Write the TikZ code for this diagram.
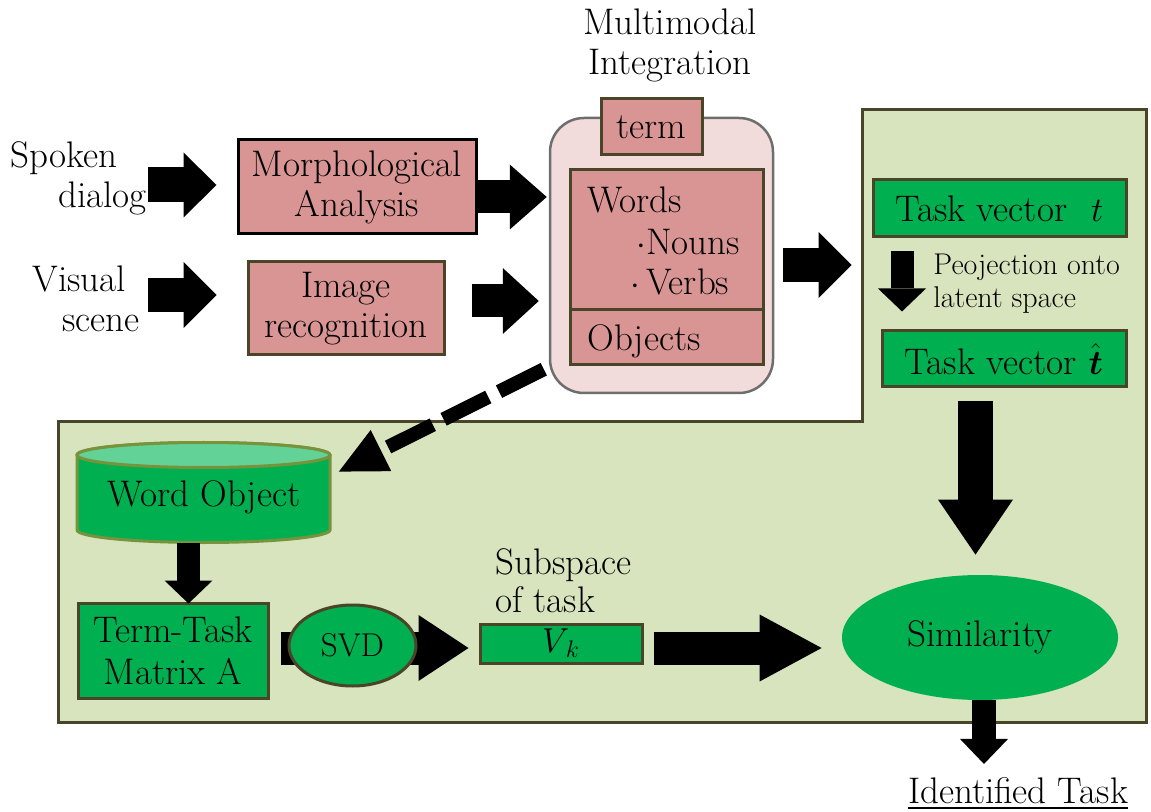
\documentclass[tikz,border=0pt]{standalone}
\usepackage{amsmath}
\usetikzlibrary{arrows.meta,shapes.geometric,calc}
\definecolor{rose}{HTML}{D99594}
\definecolor{blush}{HTML}{F2DCDB}
\definecolor{olive}{HTML}{4A4529}
\definecolor{leaf}{HTML}{00B050}
\definecolor{leaftop}{HTML}{63D297}
\definecolor{cylrim}{HTML}{77933C}
\definecolor{panelfill}{HTML}{D7E4BD}
\definecolor{frame}{HTML}{6E6E6E}
\tikzset{
  box/.style={draw=olive, line width=1.5pt, inner sep=0pt, align=center},
  pinkbox/.style={box, fill=rose},
  greenbox/.style={box, fill=leaf},
  txt/.style={inner sep=0pt, align=left},
  blk/.style n args={3}{line width=#1, -{Triangle[width=#2, length=#3, line width=0pt]}},
}
\begin{document}
\begin{tikzpicture}[x=0.5pt, y=-0.5pt, font=\fontsize{18.5}{20}\selectfont]
\useasboundingbox (0,0) rectangle (1151,812);

% green panel behind the retrieval part
\draw[draw=olive, fill=panelfill, line width=1.5pt]
  (862,110) -- (1146,110) -- (1146,722) -- (58,722) -- (58,422) -- (862,422) -- cycle;

% inputs
\node[txt, anchor=west] (spoken) at (10,178) {Spoken\\\hspace*{24pt}dialog};
\node[txt, anchor=west] (visual) at (32,299) {Visual\\\hspace*{15pt}scene};
\coordinate (sd) at (148,185);
\coordinate (vs) at (148,295);

\node[pinkbox, draw=black, minimum width=119pt, minimum height=47pt] (morph) at (357,187) {Morphological\\Analysis};
\node[pinkbox, minimum width=98pt, minimum height=46.5pt] (image) at (346,308.5) {Image\\recognition};

% multimodal integration
\node[align=center] (title) at (670,45) {Multimodal\\Integration};
\node[draw=frame, fill=blush, line width=1.25pt, rounded corners=17pt,
      minimum width=111.5pt, minimum height=137.5pt] (integ) at (661.5,255.5) {};
\node[pinkbox, minimum width=50.5pt, minimum height=28pt] (term) at (651.5,127) {term};
\node[pinkbox, minimum width=96.5pt, minimum height=70pt] (words) at (666.5,240) {};
\node[pinkbox, minimum width=96.5pt, minimum height=27.5pt] (objects) at (666.5,337.5) {};
\node[txt, anchor=west] (wl) at (587,200) {Words};
\node[txt, anchor=west] (nl) at (636,242) {$\cdot$Nouns};
\node[txt, anchor=west] (vl) at (630,282) {$\cdot$\,Verbs};
\node[txt, anchor=west] (ol) at (587,341) {Objects};

% task vectors
\node[greenbox, minimum width=126.5pt, minimum height=28.5pt] (tv) at (999.5,208.5) {Task vector\hspace{12pt}$t$};
\node[greenbox, minimum width=122pt, minimum height=28pt] (tvhat) at (1004,359) {Task vector\,\,$\hat{\boldsymbol{t}}$};
\node[txt, anchor=west, font=\fontsize{15}{16.5}\selectfont] (proj) at (933,284) {Peojection onto\\latent space};
\coordinate (px) at (902,0);

% word object database
\filldraw[fill=leaf, draw=cylrim, line width=1.5pt]
  (77,455) -- (77,530) arc[start angle=180, end angle=360, x radius=63.25pt, y radius=6.25pt]
  -- (330,455) arc[start angle=0, end angle=180, x radius=63.25pt, y radius=6.25pt] -- cycle;
\filldraw[fill=leaftop, draw=cylrim, line width=1.5pt] (203.5,455) ellipse[x radius=63.25pt, y radius=6.25pt];
\node[minimum width=126.5pt, minimum height=46pt, inner sep=0pt] (wordobj) at (204,497) {Word Object};
\coordinate (ax) at (188.5,0);

\node[greenbox, minimum width=95pt, minimum height=47.5pt, font=\fontsize{18.5}{21}\selectfont] (mat) at (173,650.5) {Term-Task\\Matrix A};
\node[greenbox, minimum width=81pt, minimum height=19.5pt] (vk) at (561,643.5) {$V_{\,k}$};
\node[txt, anchor=west, font=\fontsize{18.5}{19}\selectfont] (subsp) at (495,581) {Subspace\\of task};
\coordinate (ay) at (0,648);

\node[ellipse, fill=leaf, minimum width=138pt, minimum height=62.5pt, inner sep=0pt] (sim) at (980,637.5) {Similarity};
\node[anchor=base] (ident) at (1018,803) {\underline{Identified Task}};
\coordinate (bx) at (975.5,0);
\coordinate (ix) at (984,0);

% block arrows
\draw[blk={17.5pt}{32.5pt}{16.5pt}, shorten >=10pt] (sd) -- (morph.west |- sd);
\draw[blk={17pt}{33pt}{16.5pt}, shorten >=15pt] (vs) -- (image.west |- vs);
\coordinate (m1) at ($(morph.east)+(-3,10)$);
\draw[blk={16.5pt}{32.5pt}{18.5pt}, shorten >=1pt] (m1) -- (integ.west |- m1);
\coordinate (i1) at ($(image.east)+(26,-7.5)$);
\draw[blk={16.5pt}{33pt}{18pt}, shorten >=5pt] (i1) -- (integ.west |- i1);
\coordinate (t1) at ($(integ.east)+(9,9.5)$);
\draw[blk={17pt}{33pt}{16.5pt}, shorten >=10pt] (t1) -- (tv.west |- t1);
\draw[blk={11.5pt}{24pt}{11.5pt}, shorten <=6.5pt, shorten >=9pt] (tv.south -| px) -- (tvhat.north -| px);
\draw[blk={17.5pt}{37.5pt}{27.5pt}, shorten <=6.5pt, shorten >=10pt] (tvhat.south -| bx) -- (sim.north -| bx);
\draw[blk={11.5pt}{24pt}{11.5pt}, shorten <=0pt, shorten >=-1pt] (wordobj.south -| ax) -- (mat.north -| ax);
\draw[blk={16.5pt}{33pt}{25pt}, shorten <=5.5pt, shorten >=5pt] (mat.east |- ay) -- (vk.west |- ay);
\draw[blk={16.5pt}{33.5pt}{31pt}, shorten <=5pt, shorten >=10pt] (vk.east |- ay) -- (sim.west |- ay);
\draw[blk={12pt}{24pt}{12.5pt}, shorten >=3pt] (sim.south -| ix) -- (ident.north -| ix);

% SVD sits on top of the arrow through it
\node[ellipse, draw=olive, fill=leaf, line width=1.5pt, minimum width=63.5pt, minimum height=40.5pt,
      inner sep=0pt, font=\fontsize{16.5}{18}\selectfont] (svd) at (352.5,645.5) {SVD};

% dashed link from the integrated terms to the database
\coordinate (d1) at ($(integ.south west)+(-5,-25)$);
\coordinate (d2) at ($(wordobj.north east)+(8,21)$);
\draw[line width=7pt, dash pattern=on 25pt off 6pt, -{Triangle[width=23pt, length=23.5pt, line width=0pt]}] (d1) -- (d2);
\end{tikzpicture}
\end{document}
